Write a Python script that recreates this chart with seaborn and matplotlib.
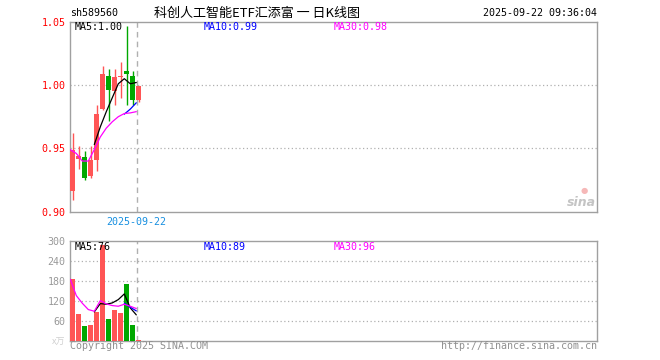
import numpy as np
import pandas as pd
import matplotlib
matplotlib.use("Agg")
import matplotlib.pyplot as plt
import seaborn as sns

# ---------------- data ----------------
opens  = [0.916, 0.942, 0.943, 0.928, 0.941, 0.981, 1.007, 0.995, 1.006, 1.011, 1.007, 0.988]
closes = [0.949, 0.944, 0.927, 0.941, 0.977, 1.009, 0.996, 1.006, 1.007, 1.009, 0.988, 0.999]
highs  = [0.962, 0.952, 0.948, 0.952, 0.984, 1.015, 1.013, 1.013, 1.018, 1.047, 1.011, 0.999]
lows   = [0.909, 0.934, 0.925, 0.927, 0.932, 0.980, 0.972, 0.984, 0.990, 0.984, 0.984, 0.987]
ma5    = [np.nan, np.nan, np.nan, np.nan, 0.953, 0.967, 0.979, 0.990, 1.001, 1.005, 1.001, 1.002]
ma10   = [np.nan] * 9 + [0.977, 0.981, 0.986]
ma30   = [0.949, 0.946, 0.940, 0.940, 0.949, 0.959, 0.966, 0.971, 0.975, 0.9775, 0.978, 0.979]

volumes = [184, 79, 44, 46, 85, 287, 64, 92, 82, 169, 46, 3]
vma5    = [np.nan, np.nan, np.nan, np.nan, 86, 111, 109, 113, 123, 140, 98, 77]
vma10   = [np.nan] * 9 + [112, 100, 89]
vma30   = [184, 135, 112, 93, 88, 120, 110, 105, 103, 109, 103, 96]

price_ticks = [0.90, 0.95, 1.00, 1.05]
vol_ticks = [60, 120, 180, 240, 300]

code_label = "sh589560"
title_label = "科创人工智能ETF汇添富 一 日K线图"
time_label = "2025-09-22 09:36:04"
date_label = "2025-09-22"
ma_labels = ["MA5:1.00", "MA10:0.99", "MA30:0.98"]
vma_labels = ["MA5:76", "MA10:89", "MA30:96"]

# ---------------- style ----------------
sns.set_style("white")
plt.rcParams["font.family"] = ["DejaVu Sans Mono", "Noto Sans CJK SC"]

RED = "#ff5555"
GREEN = "#00a800"
FRAME = "#a0a0a0"
GRID = "#b0b0b0"
MA_COLORS = ["#000000", "#0000ff", "#ff00ff"]

W, H = 660, 360
fig = plt.figure(figsize=(W / 100, H / 100), dpi=100)
fig.patch.set_facecolor("white")

def fx(x):
    return x / W

def fy(y):
    return 1 - y / H

L, R = 70.3, 597.0
main_top, main_bot = 21.7, 211.7
vol_top, vol_bot = 240.7, 340.5
ax = fig.add_axes([fx(L), fy(main_bot), (R - L) / W, (main_bot - main_top) / H])
ax2 = fig.add_axes([fx(L), fy(vol_bot), (R - L) / W, (vol_bot - vol_top) / H])

n = len(opens)
idx = np.arange(n)
bw = 5 / 6
x0 = -bw / 2
xlim = (x0, x0 + (R - L) / 6)
ma_x = idx - bw / 2
up = [c >= o for o, c in zip(opens, closes)]
cols = [RED if u else GREEN for u in up]

# ---------------- main candle chart ----------------
ax.axhline(1.00, color=GRID, lw=0.9, ls=(0, (1, 2)), zorder=0)
ax.axhline(0.95, color=GRID, lw=0.9, ls=(0, (1, 2)), zorder=0)
ax.axvline(10.7, color="#b0b0b0", lw=1, ls=(0, (4, 3)), zorder=0)

ax.vlines(idx, lows, highs, colors=cols, lw=1, zorder=2)
bottoms = [min(o, c) for o, c in zip(opens, closes)]
heights = [max(abs(c - o), 0.0008) for o, c in zip(opens, closes)]
ax.bar(idx, heights, bottom=bottoms, width=bw, color=cols, linewidth=0, zorder=3)

for vals, colr in zip([ma5, ma10, ma30], MA_COLORS):
    sns.lineplot(x=ma_x, y=vals, ax=ax, color=colr, lw=0.9, zorder=4)

ax.set_xlim(*xlim)
ax.set_ylim(0.90, 1.05)
ax.set_xticks([])
ax.set_yticks(price_ticks)
ax.set_yticklabels([f"{t:.2f}" for t in price_ticks])
ax.tick_params(axis="y", length=0, pad=3.5, labelsize=7.2, labelcolor="#ff0000")
ax.set_xlabel("")
ax.set_ylabel("")
for s in ax.spines.values():
    s.set_color(FRAME)
    s.set_linewidth(1)
    s.set_visible(True)

# ---------------- volume chart ----------------
df = pd.DataFrame({"x": idx, "vol": volumes, "dir": ["up" if u else "down" for u in up]})
sns.barplot(data=df, x="x", y="vol", hue="dir", palette={"up": RED, "down": GREEN},
            native_scale=True, dodge=False, width=bw, saturation=1, legend=False,
            errorbar=None, linewidth=0, ax=ax2, zorder=3)
for t in vol_ticks[:-1]:
    ax2.axhline(t, color=GRID, lw=0.9, ls=(0, (1, 2)), zorder=0)
ax2.axvline(10.7, color="#b0b0b0", lw=1, ls=(0, (4, 3)), zorder=0)
for vals, colr in zip([vma5, vma10, vma30], MA_COLORS):
    sns.lineplot(x=ma_x, y=vals, ax=ax2, color=colr, lw=0.9, zorder=4)

ax2.set_xlim(*xlim)
ax2.set_ylim(0, 300)
ax2.set_xticks([])
ax2.set_yticks(vol_ticks)
ax2.set_yticklabels([str(t) for t in vol_ticks])
ax2.tick_params(axis="y", length=0, pad=3.5, labelsize=7.2, labelcolor="#999999")
ax2.set_xlabel("")
ax2.set_ylabel("")
for s in ax2.spines.values():
    s.set_color(FRAME)
    s.set_linewidth(1)
    s.set_visible(True)

# ---------------- texts ----------------
fs = 7.2
fig.text(fx(70), fy(13), code_label, fontsize=fs, va="center", ha="left", color="black")
fig.text(fx(256.5), fy(13), title_label, fontsize=9.4, va="center", ha="center",
         color="black", family=["Noto Sans CJK SC", "DejaVu Sans"])
fig.text(fx(597), fy(13), time_label, fontsize=fs, va="center", ha="right", color="black")

ma_xpos = [75, 204, 334]
for lab, colr, xp in zip(ma_labels, MA_COLORS, ma_xpos):
    fig.text(fx(xp), fy(27), lab, fontsize=fs, va="center", ha="left", color=colr)
for lab, colr, xp in zip(vma_labels, MA_COLORS, ma_xpos):
    fig.text(fx(xp), fy(246.5), lab, fontsize=fs, va="center", ha="left", color=colr)

fig.text(fx(136), fy(221.7), date_label, fontsize=fs, va="center", ha="center", color="#178fe0")
fig.text(fx(70), fy(346), "Copyright 2025 SINA.COM", fontsize=fs, va="center", ha="left", color="#909090")
fig.text(fx(597), fy(346), "http://finance.sina.com.cn", fontsize=fs, va="center", ha="right", color="#909090")
fig.text(fx(65), fy(342), "x万", fontsize=6.5, va="center", ha="right", color="#d0d0d0",
         family=["Noto Sans CJK SC", "DejaVu Sans"])
fig.text(fx(596), fy(203), "sina", fontsize=9, va="center", ha="right", color="#c4c4c4",
         style="italic", weight="bold", family=["DejaVu Sans"])
fig.text(fx(584), fy(191), "●", fontsize=6, va="center", ha="center", color="#f6b8b8",
         family=["DejaVu Sans"])

fig.savefig("out.png", dpi=100, facecolor="white")
